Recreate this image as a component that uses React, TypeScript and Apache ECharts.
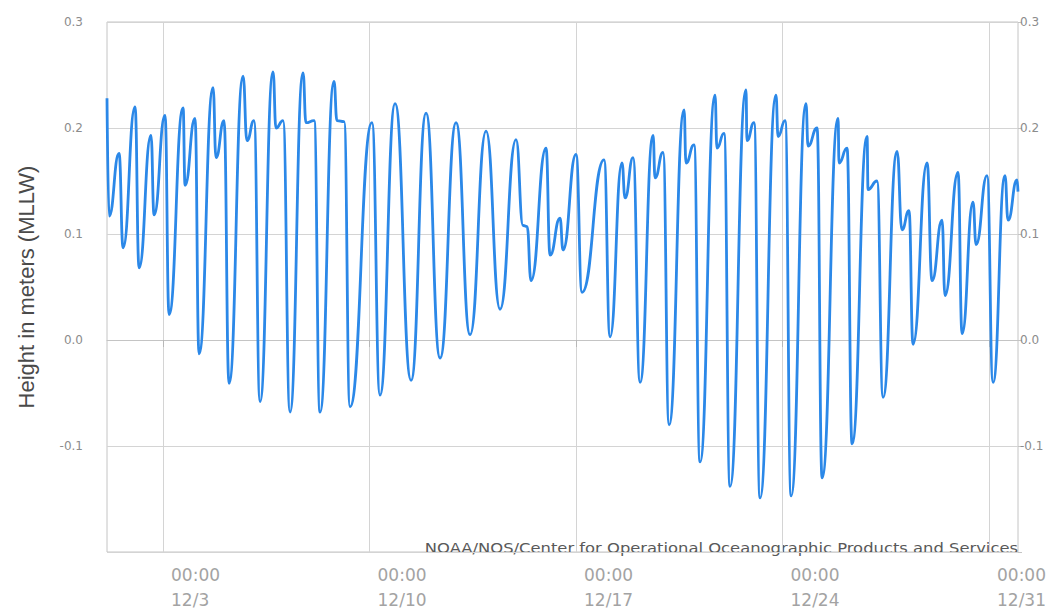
import React, { useEffect, useRef } from "react";
import * as echarts from "echarts";

// Hours since 12/1 00:00 of each high/low turning point
const tideHours = [
  2.4, 4.1, 12.2, 15.5, 25.2, 28.5, 38.2, 40.7, 49.6, 52.9, 64.3, 65.9, 74.0, 77.3,
  88.7, 91.1, 97.6, 101.7, 113.1, 116.3, 122.0, 126.9, 137.5, 139.9, 145.6, 151.3,
  161.9, 164.3, 170.9, 175.7, 187.1, 189.5, 195.3, 200.1, 218.0, 224.5, 236.8, 249.8,
  262.0, 273.4, 286.4, 297.8, 310.8, 322.2, 335.2, 340.9, 344.2, 347.4, 359.6, 362.9,
  371.0, 373.4, 384.0, 388.9, 406.8, 411.7, 421.4, 423.9, 430.4, 436.1, 446.7, 448.3,
  454.8, 459.7, 471.9, 473.5, 480.0, 484.9, 497.1, 498.7, 504.4, 509.3, 522.3, 523.1,
  528.8, 533.7, 546.7, 548.4, 554.1, 559.0, 571.1, 572.8, 580.1, 584.2, 597.2, 598.0,
  604.5, 608.6, 620.8, 621.6, 628.9, 633.8, 645.2, 649.2, 654.9, 658.2, 669.6, 673.7,
  681.8, 684.2, 694.8, 698.1, 707.0, 709.5, 718.4, 723.3, 733.0, 735.5, 742.8, 743.6,
];
const tideMeters = [
  0.228, 0.117, 0.176, 0.087, 0.22, 0.068, 0.193, 0.118, 0.212, 0.024, 0.219, 0.146, 0.209, -0.013,
  0.238, 0.172, 0.207, -0.041, 0.249, 0.188, 0.207, -0.058, 0.253, 0.2, 0.207, -0.068,
  0.252, 0.205, 0.207, -0.068, 0.244, 0.207, 0.206, -0.063, 0.205, -0.052, 0.223, -0.038,
  0.214, -0.017, 0.205, 0.005, 0.197, 0.029, 0.189, 0.108, 0.107, 0.056, 0.181, 0.08,
  0.115, 0.085, 0.175, 0.045, 0.17, 0.003, 0.167, 0.134, 0.172, -0.04, 0.193, 0.153,
  0.177, -0.08, 0.217, 0.167, 0.184, -0.115, 0.231, 0.181, 0.195, -0.138, 0.236, 0.188,
  0.205, -0.149, 0.231, 0.192, 0.207, -0.147, 0.223, 0.183, 0.2, -0.13, 0.209, 0.167,
  0.181, -0.098, 0.192, 0.142, 0.15, -0.054, 0.178, 0.104, 0.122, -0.004, 0.167, 0.056,
  0.113, 0.042, 0.158, 0.006, 0.13, 0.09, 0.155, -0.04, 0.155, 0.113, 0.151, 0.14,
];
// Tick positions (hours since 12/1 00:00) for 12/3, 12/10, 12/17, 12/24, 12/31
const dateTicks = [48, 216, 384, 552, 720];
const yTicks = [-0.2, -0.1, 0.0, 0.1, 0.2, 0.3];
const yAxisTitle = "Height in meters (MLLW)";
const creditText = "NOAA/NOS/Center for Operational Oceanographic Products and Services";

const FONT = "DejaVu Sans";

export default function App() {
  const ref = useRef<HTMLDivElement>(null);
  useEffect(() => {
    document.body.style.margin = "0";
    if (!ref.current) return;
    const chart = echarts.init(ref.current, undefined, { renderer: "svg" });
    const data = tideHours.map((h, i) => [h, tideMeters[i]]);
    const yFmt = (v: number) => {
      const r = Math.round(v * 10) / 10;
      if (r === yTicks[0]) return "";
      return r.toFixed(1);
    };
    chart.setOption({
      animation: false,
      grid: {
        left: 107,
        right: 38,
        top: 22,
        bottom: 57,
        show: true,
        borderColor: "#c4c4c4",
        borderWidth: 1,
        backgroundColor: "transparent",
      },
      xAxis: {
        type: "value",
        min: 2.4,
        max: 743.6,
        axisLine: { show: true, lineStyle: { color: "#c4c4c4", width: 1 } },
        axisTick: {
          show: true,
          customValues: dateTicks,
          length: 7,
          lineStyle: { color: "#b8b8b8", width: 1 },
        },
        splitLine: { show: true, lineStyle: { color: "#d4d4d4", width: 1 } },
        axisLabel: {
          customValues: dateTicks,
          align: "left",
          padding: [0, 0, 0, 8],
          margin: 10,
          lineHeight: 25,
          fontFamily: FONT,
          fontSize: 17,
          color: "#a3a3a3",
          hideOverlap: false,
          showMinLabel: true,
          showMaxLabel: true,
          formatter: (v: number) => `00:00\n12/${Math.round(1 + v / 24)}`,
        },
      },
      yAxis: [
        {
          type: "value",
          min: -0.2,
          max: 0.3,
          interval: 0.1,
          position: "left",
          name: yAxisTitle,
          nameLocation: "middle",
          nameGap: 70,
          nameTextStyle: { fontFamily: "Liberation Sans", fontSize: 22, color: "#4a4a4a" },
          axisLine: { show: false },
          axisTick: { show: false },
          splitLine: { show: true, lineStyle: { color: "#d4d4d4", width: 1 } },
          axisLabel: {
            margin: 24,
            fontFamily: FONT,
            fontSize: 12,
            color: "#8c8c8c",
            formatter: yFmt,
          },
        },
        {
          type: "value",
          min: -0.2,
          max: 0.3,
          interval: 0.1,
          position: "right",
          axisLine: { show: false },
          axisTick: { show: true, length: 4, lineStyle: { color: "#c4c4c4" } },
          splitLine: { show: false },
          axisLabel: {
            margin: 2,
            fontFamily: FONT,
            fontSize: 12,
            color: "#8c8c8c",
            formatter: yFmt,
          },
        },
      ],
      graphic: [
        {
          type: "text",
          x: 1018,
          y: 548,
          scaleX: 1.17,
          style: {
            text: creditText,
            fontFamily: FONT,
            fontSize: 14,
            fill: "#595959",
            align: "right",
            verticalAlign: "middle",
          },
        },
      ],
      series: [
        {
          type: "line",
          data,
          yAxisIndex: 0,
          showSymbol: false,
          smooth: 0.5,
          smoothMonotone: "x",
          lineStyle: { color: "#2b88e8", width: 2.8 },
          itemStyle: { color: "#2b88e8" },
        },
      ],
    });
    return () => chart.dispose();
  }, []);
  return <div ref={ref} style={{ width: 1056, height: 612 }} />;
}
